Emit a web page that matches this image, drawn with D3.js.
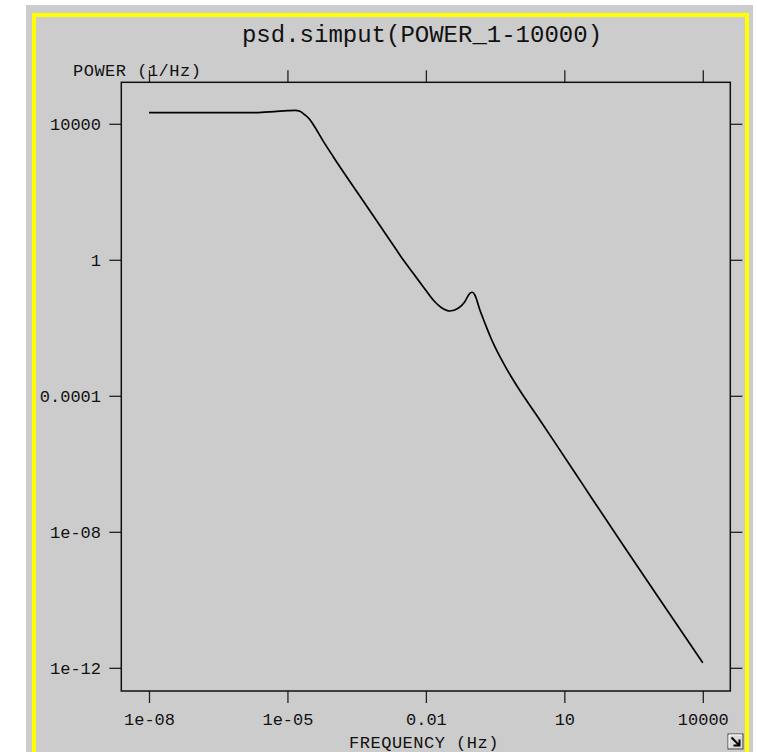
<!DOCTYPE html>
<html>
<head>
<meta charset="utf-8">
<script src="https://cdn.jsdelivr.net/npm/d3@7"></script>
<style>
  html, body { margin: 0; padding: 0; background: #ffffff; }
  svg { display: block; }
  .mono { font-family: "Liberation Mono", "DejaVu Sans Mono", monospace; fill: #111; }
</style>
</head>
<body>
<svg id="chart" width="757" height="752"></svg>
<script>
// Power spectral density of the simput source model
const title = "psd.simput(POWER_1-10000)";
const xLabel = "FREQUENCY (Hz)";
const yLabel = "POWER (1/Hz)";

const frequency = [
  1e-8, 1e-7, 1e-6, 2.04e-6, 3.16e-6, 5.13e-6, 1e-5, 1.45e-5, 1.91e-5, 2.39e-5,
  2.95e-5, 3.62e-5, 5.96e-5, 9.82e-5, 4.39e-4, 1e-3, 1.66e-3, 3.22e-3, 5.31e-3, 8.73e-3,
  1.44e-2, 2.19e-2, 3.30e-2, 5.01e-2, 6.98e-2, 8.95e-2, 0.102, 0.115, 0.148, 0.191,
  0.251, 0.312, 0.558, 1.08, 2.49, 6.75, 15.5, 38.7, 187, 991,
  10000
];
const power = [
  2.12e4, 2.12e4, 2.13e4, 2.14e4, 2.21e4, 2.29e4, 2.43e4, 2.49e4, 2.29e4, 1.82e4,
  1.41e4, 9.55e3, 3.09e3, 1.08e3, 53.7, 10.4, 3.77, 1.0, 0.401, 0.162,
  0.0658, 0.0390, 0.0312, 0.0375, 0.0586, 0.1035, 0.111, 0.0923, 0.0334, 0.0135,
  5.37e-3, 2.78e-3, 6.31e-4, 1.45e-4, 2.71e-5, 3.61e-6, 6.61e-7, 1.01e-7, 4.11e-9, 1.44e-10,
  1.41e-12
];

const xDomain = [2.512e-9, 3.945e4];
const yDomain = [2.08e-13, 1.662e5];
const xTickValues = [1e-8, 1e-5, 1e-2, 10, 1e4];
const xTickLabels = ["1e-08", "1e-05", "0.01", "10", "10000"];
const yTickValues = [1e4, 1, 1e-4, 1e-8, 1e-12];
const yTickLabels = ["10000", "1", "0.0001", "1e-08", "1e-12"];

const svg = d3.select("#chart");
const H = 752;

// frame of the plotting region
const plot = { left: 121.3, right: 730.3, top: 82.3, bottom: 691 };

// window panel with its highlight border
svg.append("rect").attr("x", 26).attr("y", 5).attr("width", 727).attr("height", H)
  .attr("fill", "#cccccc");
svg.append("rect").attr("x", 34).attr("y", 15).attr("width", 713).attr("height", H + 20)
  .attr("fill", "none").attr("stroke", "#ffff00").attr("stroke-width", 4);

const x = d3.scaleLog().domain(xDomain).range([plot.left, plot.right]);
const y = d3.scaleLog().domain(yDomain).range([plot.bottom, plot.top]);

const tickLen = 12;
const fontSize = 17;

// bottom axis with labels
const gBottom = svg.append("g").attr("transform", `translate(0,${plot.bottom})`)
  .call(d3.axisBottom(x).tickValues(xTickValues).tickSize(tickLen).tickPadding(10)
    .tickFormat((d, i) => xTickLabels[i]));
// top axis, ticks only
const gTop = svg.append("g").attr("transform", `translate(0,${plot.top})`)
  .call(d3.axisTop(x).tickValues(xTickValues).tickSize(tickLen).tickFormat(""));
// left axis with labels
const gLeft = svg.append("g").attr("transform", `translate(${plot.left},0)`)
  .call(d3.axisLeft(y).tickValues(yTickValues).tickSize(tickLen).tickPadding(8.3)
    .tickFormat((d, i) => yTickLabels[i]));
// right axis, ticks only
const gRight = svg.append("g").attr("transform", `translate(${plot.right},0)`)
  .call(d3.axisRight(y).tickValues(yTickValues).tickSize(tickLen).tickFormat(""));

[gBottom, gTop, gLeft, gRight].forEach(g => {
  g.select(".domain").remove();
  g.selectAll(".tick line").attr("stroke", "#222").attr("stroke-width", 1.3);
  g.selectAll(".tick text")
    .attr("class", "mono")
    .style("font-size", fontSize + "px")
    .attr("fill", "#222");
});
gLeft.selectAll(".tick text").attr("dy", "0.33em");

// frame
svg.append("rect")
  .attr("x", plot.left).attr("y", plot.top)
  .attr("width", plot.right - plot.left).attr("height", plot.bottom - plot.top)
  .attr("fill", "none").attr("stroke", "#111").attr("stroke-width", 1.5);

// spectrum curve
const points = frequency.map((f, i) => [f, power[i]]);
const line = d3.line()
  .x(d => x(d[0]))
  .y(d => y(d[1]))
  .curve(d3.curveMonotoneX);
svg.append("path")
  .datum(points)
  .attr("d", line)
  .attr("fill", "none")
  .attr("stroke", "#000")
  .attr("stroke-width", 1.7)
  .attr("stroke-linejoin", "round");

// title and axis labels
svg.append("text").attr("class", "mono")
  .attr("x", 422).attr("y", 41.5)
  .attr("text-anchor", "middle")
  .style("font-size", "24px")
  .text(title);
svg.append("text").attr("class", "mono")
  .attr("x", 73).attr("y", 76)
  .style("font-size", fontSize + "px")
  .style("letter-spacing", "0.5px")
  .text(yLabel);
svg.append("text").attr("class", "mono")
  .attr("x", 424).attr("y", 748)
  .attr("text-anchor", "middle")
  .style("font-size", fontSize + "px")
  .style("letter-spacing", "0.5px")
  .text(xLabel);

// resize grip in the lower right corner
const grip = svg.append("g").attr("transform", "translate(728,734)");
grip.append("rect").attr("width", 15).attr("height", 15)
  .attr("fill", "#d9d9d9").attr("stroke", "#444").attr("stroke-width", 1);
grip.append("path")
  .attr("d", "M1,1 L14,1 M1,1 L1,14")
  .attr("fill", "none").attr("stroke", "#ffffff").attr("stroke-width", 1);
grip.append("path")
  .attr("d", "M3.5,3.5 L11.5,11.5 M11.5,5.5 L11.5,11.5 L5.5,11.5")
  .attr("fill", "none").attr("stroke", "#000").attr("stroke-width", 2);
</script>
</body>
</html>
